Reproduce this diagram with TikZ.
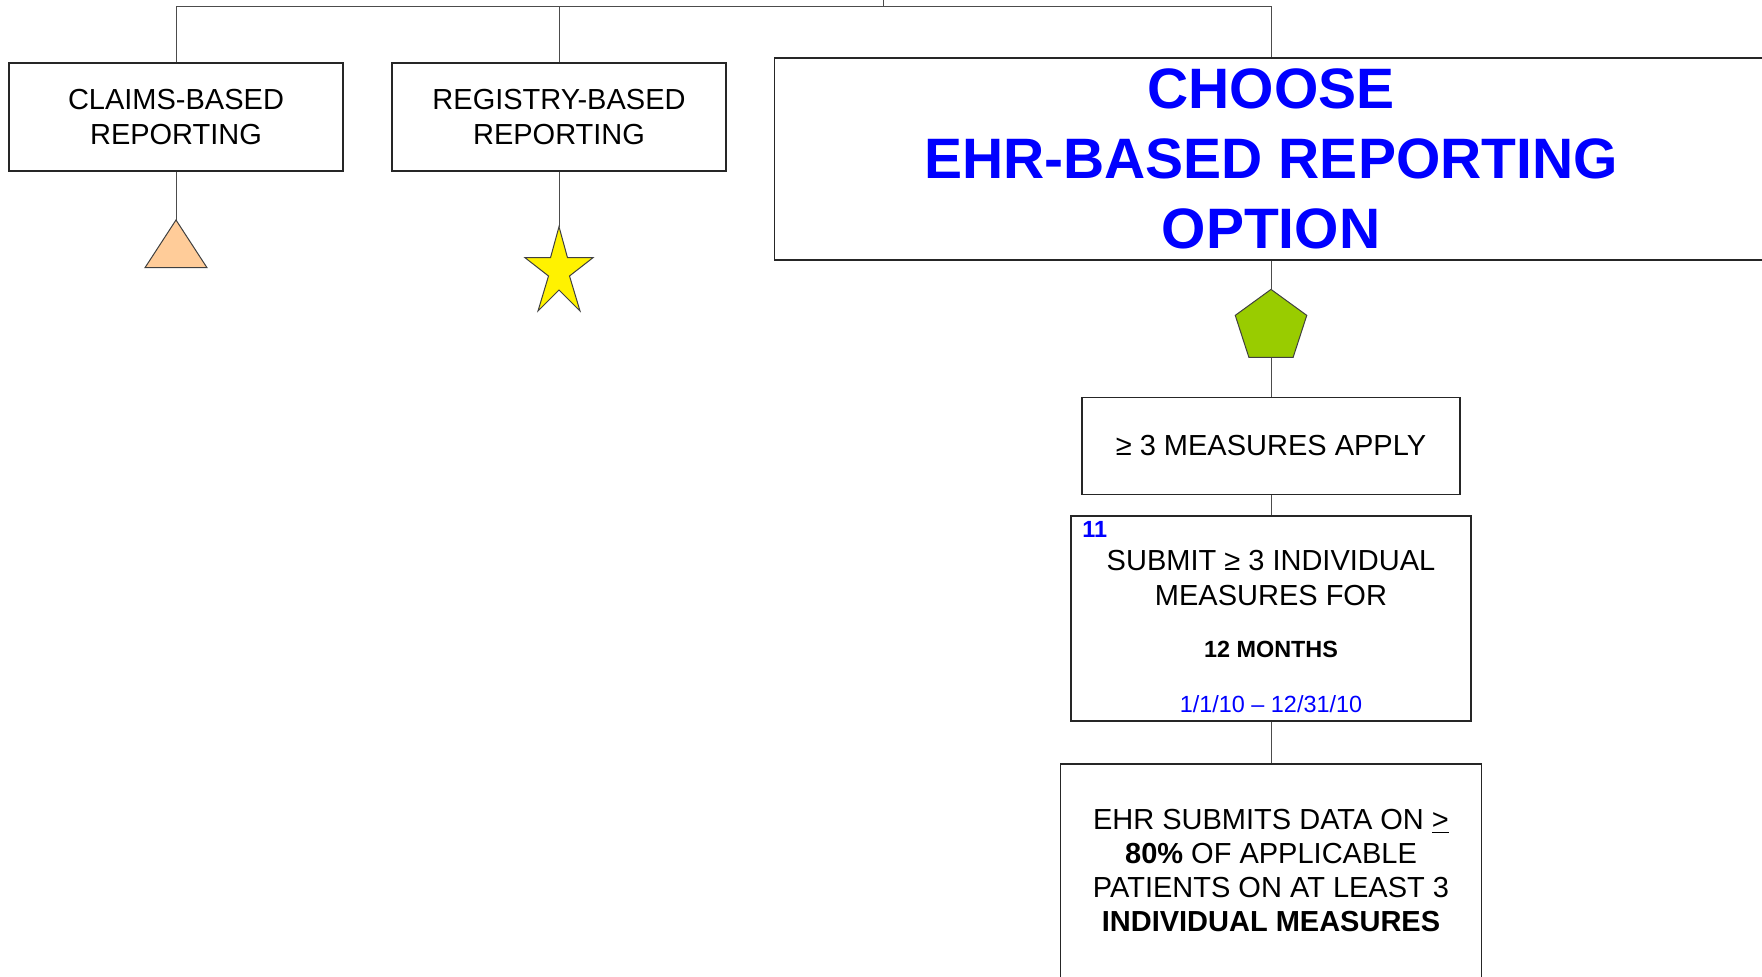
\documentclass[tikz,border=0pt]{standalone}
\usepackage{fontspec}
\setmainfont{Liberation Sans}
\usetikzlibrary{shapes.geometric}
\definecolor{peach}{HTML}{FFCC99}
\definecolor{leaf}{HTML}{99CC00}
\definecolor{pureblue}{HTML}{0000FF}
\begin{document}
\begin{tikzpicture}[x=0.5pt,y=-0.5pt,
  box/.style={draw=black!85, line width=0.6pt, rectangle, inner sep=0pt, align=center,
    font=\fontsize{14.5}{17.5}\selectfont},
  conn/.style={draw=black!70, line width=0.5pt},
  txt/.style={anchor=base, inner sep=0pt, font=\fontsize{14.5}{17.5}\selectfont},
  smalltxt/.style={anchor=base, inner sep=0pt, font=\fontsize{11.7}{14}\selectfont},
  shapeline/.style={draw=black!75, line width=0.5pt}
]
\useasboundingbox (0,0) rectangle (1762,977);

% boxes
\node[box, minimum width=167pt, minimum height=54pt] (claims) at (176,117) {CLAIMS-BASED\\REPORTING};
\node[box, minimum width=167pt, minimum height=54pt] (registry) at (559,117) {REGISTRY-BASED\\REPORTING};
\node[box, minimum width=496.5pt, minimum height=101pt, text=pureblue,
  font=\fontsize{28.5}{35}\selectfont\bfseries] (ehr) at (1271,159) {CHOOSE\\EHR-BASED REPORTING\\OPTION};
\node[box, minimum width=189pt, minimum height=48.5pt] (measures) at (1271,446) {≥ 3 MEASURES APPLY};
\node[box, minimum width=200pt, minimum height=102.5pt] (submit) at (1271,618.5) {};
\node[box, minimum width=210.5pt, minimum height=107pt, font=\fontsize{14.5}{17}\selectfont] (ehrsub) at (1271,871)
  {EHR SUBMITS DATA ON \underline{>}\\\textbf{80\%} OF APPLICABLE\\PATIENTS ON AT LEAST 3\\\textbf{INDIVIDUAL MEASURES}};

% texts in the submit box
\node[smalltxt, anchor=base west, text=pureblue, font=\fontsize{11.7}{14}\selectfont\bfseries] (num) at (1082,538) {11};
\node[txt] (s1) at (1271,571) {SUBMIT ≥ 3 INDIVIDUAL};
\node[txt] (s2) at (1271,606) {MEASURES FOR};
\node[smalltxt, font=\fontsize{11.7}{14}\selectfont\bfseries] (s3) at (1271,658) {12 MONTHS};
\node[smalltxt, text=pureblue] (s4) at (1271,713) {1/1/10 – 12/31/10};

% pentagon
\node[regular polygon, regular polygon sides=5, minimum size=37.6pt, inner sep=0pt,
  fill=leaf, shapeline] (pent) at (1271,327) {};

% coordinates
\coordinate (root) at (883,-2);
\coordinate (bus) at (883,6.7);
\coordinate (triapex) at (176,220);
\coordinate (startop) at (559,226.7);

% connectors
\draw[conn] (claims.north) |- (bus) -| (ehr.north);
\draw[conn] (registry.north) -- (registry.north |- bus);
\draw[conn] (root) -- (bus);
\draw[conn] (claims.south) -- (triapex);
\draw[conn] (registry.south) -- (startop);
\draw[conn] (ehr.south) -- (pent.north);
\draw[conn] (pent.south) -- (measures.north);
\draw[conn] (measures.south) -- (submit.north);
\draw[conn] (submit.south) -- (ehrsub.north);

% triangle
\draw[shapeline, fill=peach] (triapex) -- (207,267.7) -- (145,267.7) -- cycle;
% star
\draw[shapeline, fill=yellow] (startop) -- (567.5,257.7) -- (593,257.7) -- (569.5,276)
  -- (580,311) -- (559,290) -- (538,311) -- (548.5,276) -- (525,257.7) -- (550.5,257.7) -- cycle;
\end{tikzpicture}
\end{document}
